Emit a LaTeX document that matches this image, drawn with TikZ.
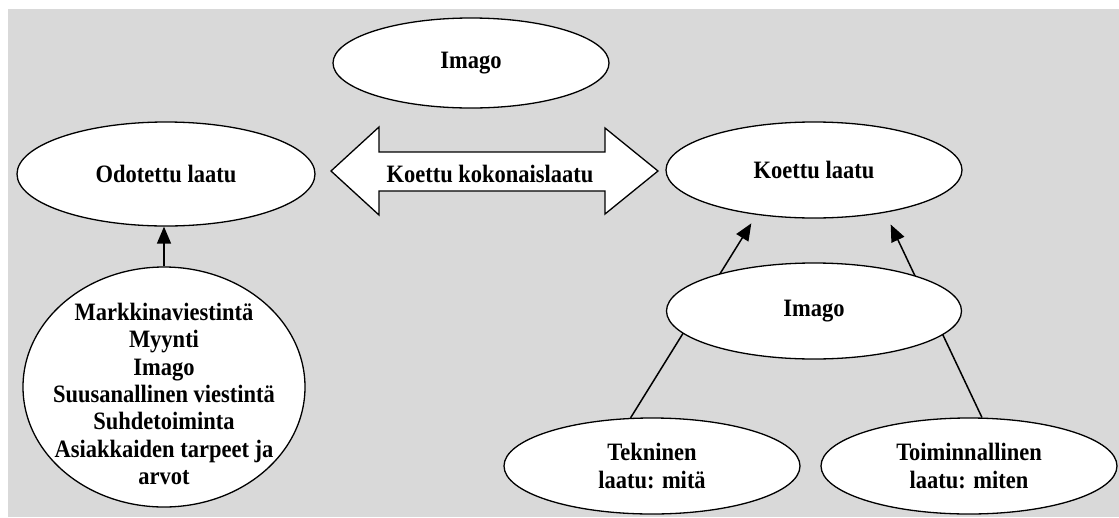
\documentclass[tikz,border=0pt]{standalone}
\usepackage{fontspec}
\setmainfont{Liberation Serif}[FakeStretch=0.9]
\usetikzlibrary{shapes.geometric,arrows.meta}
\definecolor{panel}{RGB}{217,217,217}
\begin{document}
\begin{tikzpicture}[x=1pt,y=-1pt,
  ell/.style={ellipse, draw, line width=1.3pt, fill=white, inner sep=0pt},
  lbl/.style={font=\fontsize{25}{27.3}\selectfont\bfseries, align=center, inner sep=0pt},
  arr/.style={line width=1.5pt, -{Triangle[length=17pt,width=14pt]}}]
\useasboundingbox (0,0) rectangle (1119,517);
\fill[panel] (8,9) rectangle (1119,517);

% top
\node[ell, lbl, minimum width=276pt, minimum height=90pt] (topim) at (471,63) {Imago};

% left column
\node[ell, lbl, minimum width=298pt, minimum height=104pt] (odot) at (166,174) {Odotettu laatu};
\node[ell, minimum width=282pt, minimum height=240pt] (big) at (164,387) {};
\node[lbl] (bigtxt) at (164,394) {Markkinaviestintä\\Myynti\\Imago\\Suusanallinen viestintä\\Suhdetoiminta\\Asiakkaiden tarpeet ja\\arvot};
\draw[arr] (big.north) -- (big.north |- odot.south);

% double-headed block arrow between expected and experienced quality
\path[draw, line width=1.3pt, fill=white, line join=miter]
  (331,171) -- (379,127) -- (379,152) -- (605,152) -- (605,128) -- (658,171)
  -- (605,214) -- (605,191) -- (379,191) -- (379,215) -- cycle;
\node[lbl] (total) at (490,174) {Koettu kokonaislaatu};

% right column
\node[ell, lbl, minimum width=296pt, minimum height=96pt] (koe) at (814,170) {Koettu laatu};
\node[ell, lbl, minimum width=296pt, minimum height=96pt] (tek) at (652,466) {Tekninen\\laatu: mitä};
\node[ell, lbl, minimum width=296pt, minimum height=96pt] (toi) at (969,466) {Toiminnallinen\\laatu: miten};
\draw[arr, shorten >=10pt] (tek.114) -- (koe.218);
\draw[arr, shorten >=13pt] (toi.75) -- (koe.329);
\node[ell, lbl, minimum width=295pt, minimum height=96pt] (midim) at (814,311) {Imago};
\end{tikzpicture}
\end{document}
